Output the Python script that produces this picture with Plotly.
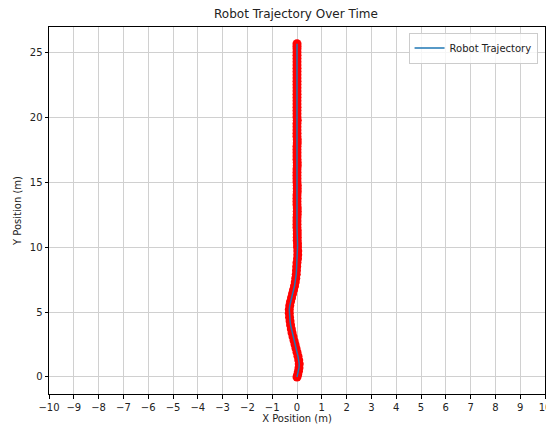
import plotly.graph_objects as go

# Recorded robot positions (metres)
x_pos = [0.00, 0.03, 0.06, 0.08, 0.09, 0.07, 0.04, 0.00, -0.04, -0.08,
         -0.12, -0.16, -0.20, -0.23, -0.26, -0.28, -0.30, -0.31, -0.31, -0.29,
         -0.26, -0.22, -0.18, -0.14, -0.10, -0.07, -0.05, -0.03, -0.02, -0.01,
         0.00, 0.02, 0.03, 0.03, 0.02,
         0.02, 0.01, 0.01, 0.01, 0.01, 0.00, 0.00, 0.00, 0.00, 0.01,
         0.01, 0.01, 0.00, 0.00, 0.00, 0.00, 0.01, 0.01, 0.01, 0.00,
         0.00, 0.00, 0.00, 0.00, 0.01, 0.01, 0.00, 0.00, 0.00, 0.00,
         0.00, 0.01, 0.01, 0.00, 0.00, 0.00, 0.00, 0.00, 0.01, 0.00,
         0.00, 0.00, 0.00, 0.00, 0.00, 0.00, 0.00, 0.00, 0.00, 0.00,
         0.00, 0.00, 0.00, 0.00, 0.00, 0.00, 0.00, 0.00, 0.00, 0.00,
         0.00, 0.00, 0.00]
y_pos = [0.00, 0.20, 0.45, 0.70, 1.00, 1.30, 1.60, 1.90, 2.20, 2.50,
         2.80, 3.10, 3.40, 3.70, 4.00, 4.30, 4.60, 4.90, 5.20, 5.50,
         5.80, 6.10, 6.40, 6.70, 7.00, 7.30, 7.60, 7.90, 8.20, 8.50,
         8.80, 9.10, 9.40, 9.70, 10.00,
         10.25, 10.50, 10.75, 11.00, 11.25, 11.50, 11.75, 12.00, 12.25, 12.50,
         12.75, 13.00, 13.25, 13.50, 13.75, 14.00, 14.25, 14.50, 14.75, 15.00,
         15.25, 15.50, 15.75, 16.00, 16.25, 16.50, 16.75, 17.00, 17.25, 17.50,
         17.75, 18.00, 18.25, 18.50, 18.75, 19.00, 19.25, 19.50, 19.75, 20.00,
         20.25, 20.50, 20.75, 21.00, 21.25, 21.50, 21.75, 22.00, 22.25, 22.50,
         22.75, 23.00, 23.25, 23.50, 23.75, 24.00, 24.25, 24.50, 24.75, 25.00,
         25.25, 25.45, 25.65]

x_ticks = list(range(-10, 11))
y_ticks = [0, 5, 10, 15, 20, 25]

font = "DejaVu Sans, Arial, sans-serif"

fig = go.Figure()
fig.add_trace(go.Scatter(
    x=x_pos, y=y_pos, mode="markers",
    marker=dict(color="red", size=9, line=dict(width=0)),
    showlegend=False, hoverinfo="skip",
))
fig.add_trace(go.Scatter(
    x=x_pos, y=y_pos, mode="lines",
    line=dict(color="#1f77b4", width=1.5),
    name="Robot Trajectory",
))

axis_common = dict(
    showline=True, linecolor="black", linewidth=1, mirror=True,
    ticks="outside", ticklen=3.5, tickwidth=0.8, tickcolor="black",
    showgrid=True, gridcolor="#d0d0d0", gridwidth=0.8,
    zeroline=False, tickfont=dict(size=10, color="#222"),
    ticklabeloverflow="allow", automargin=False,
)

fig.update_layout(
    width=546, height=427,
    margin=dict(l=49, r=1, t=27, b=33),
    paper_bgcolor="white", plot_bgcolor="white",
    font=dict(family=font, size=10, color="#222"),
    title=dict(text="Robot Trajectory Over Time", x=0.542, xanchor="center",
               y=1 - 14 / 427, yanchor="middle", font=dict(size=12, color="#222")),
    xaxis=dict(range=[-10, 10], tickvals=x_ticks,
               title=dict(text="X Position (m)", standoff=2, font=dict(size=10)),
               **axis_common),
    yaxis=dict(range=[-1.31, 26.93], tickvals=y_ticks,
               title=dict(text="Y Position (m)", standoff=6, font=dict(size=10)),
               **axis_common),
    legend=dict(x=0.985, y=0.985, xanchor="right", yanchor="top",
                bgcolor="rgba(255,255,255,0.8)", bordercolor="#cccccc",
                borderwidth=1, font=dict(size=10, color="#222")),
)

fig.write_html("out.html")
